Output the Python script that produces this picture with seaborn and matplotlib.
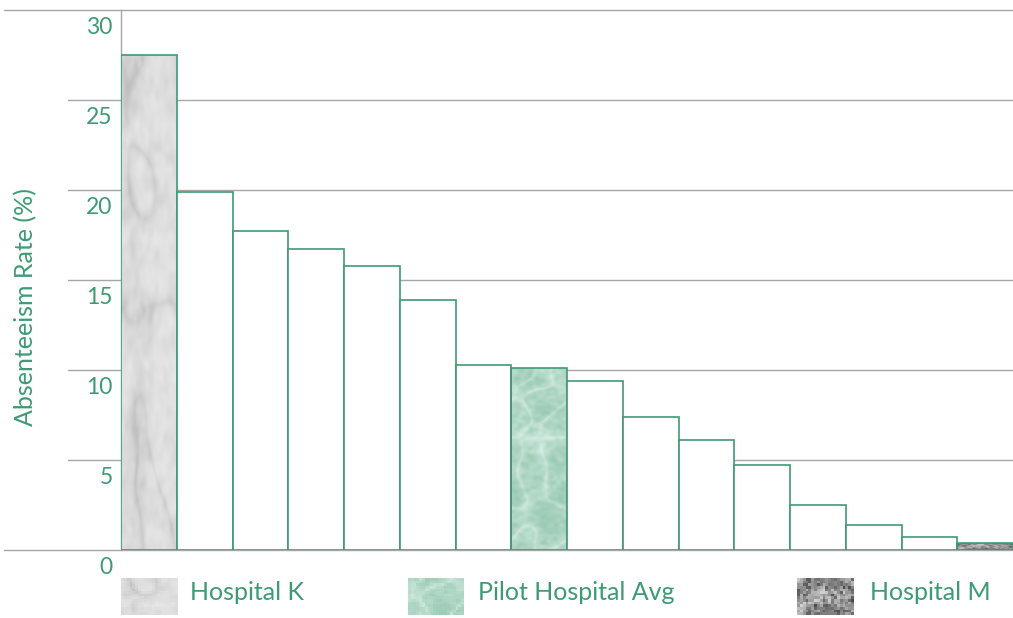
import numpy as np
import pandas as pd
import matplotlib
matplotlib.use("Agg")
import matplotlib.pyplot as plt
from matplotlib.colors import LinearSegmentedColormap
from matplotlib.transforms import ScaledTranslation
import seaborn as sns

# Absenteeism rate (%) per hospital, sorted high to low
hospitals = ["Hospital K", "Hospital B", "Hospital F", "Hospital D", "Hospital J",
             "Hospital A", "Hospital H", "Pilot Hospital Avg", "Hospital C",
             "Hospital E", "Hospital G", "Hospital L", "Hospital N", "Hospital I",
             "Hospital O", "Hospital M"]
rates = [27.5, 19.9, 17.7, 16.7, 15.8, 13.9, 10.3, 10.1, 9.4, 7.4, 6.1, 4.7,
         2.5, 1.4, 0.7, 0.4]
y_ticks = [0, 5, 10, 15, 20, 25, 30]
legend_items = ["Hospital K", "Pilot Hospital Avg", "Hospital M"]

GREEN = "#3d9a77"
GRID = "#a6a6a6"
FONT = ["Lato", "DejaVu Sans"]

sns.set_theme(style="white")
plt.rcParams["font.family"] = FONT


def smooth_field(h, w, rng, sigma):
    noise = rng.standard_normal((h, w))
    fy = np.fft.fftfreq(h)[:, None]
    fx = np.fft.fftfreq(w)[None, :]
    filt = np.exp(-(fx ** 2 + fy ** 2) * (2 * np.pi * sigma) ** 2 / 2)
    f = np.real(np.fft.ifft2(np.fft.fft2(noise) * filt))
    return (f - f.mean()) / (f.std() + 1e-9)


def marble(h, w, seed, vein_sharp=1.6, mottled=False):
    rng = np.random.default_rng(seed)
    base = smooth_field(h, w, rng, 8) * 0.5 + smooth_field(h, w, rng, 2.0) * 0.5
    if mottled:
        fine = smooth_field(h, w, rng, 1.0)
        v = 0.5 + 0.22 * base + 0.18 * fine
        return np.clip(v, 0, 1)
    veins = np.exp(-np.abs(smooth_field(h, w, rng, 12)) * vein_sharp)
    v = 0.4 + 0.14 * base + 0.4 * veins ** 2
    return np.clip(v, 0, 1)


# grey marble: veins darker than the ground
grey_cmap = LinearSegmentedColormap.from_list("greymarble", ["#ececec", "#e2e2e2", "#d3d3d3", "#c0c0c0"])
# green marble: veins lighter than the ground
green_cmap = LinearSegmentedColormap.from_list("greenmarble", ["#92c6ae", "#a4d0bb", "#c0e0d2", "#d8ede3"])
dark_cmap = LinearSegmentedColormap.from_list("darkstone", ["#4a4a4a", "#7c7c7c", "#a9a9a9", "#d0d0d0"])

tex_grey = marble(240, 60, 3)
tex_green = marble(240, 60, 11)
tex_dark = marble(40, 60, 7, mottled=True)

W, H = 1013, 618
fig = plt.figure(figsize=(W / 100, H / 100), dpi=100)
ax = fig.add_axes([121 / W, 68 / H, 892 / W, 540 / H])

df = pd.DataFrame({"hospital": hospitals, "rate": rates})
sns.barplot(data=df, x="hospital", y="rate", color="white", saturation=1,
            edgecolor=GREEN, linewidth=1.2, width=1.0, ax=ax, zorder=3)

ax.set_xlim(-0.5, len(hospitals) - 0.5)
ax.set_ylim(0, 30)

# textured fills for highlighted bars
textures = {0: (tex_grey, grey_cmap), 7: (tex_green, green_cmap),
            len(hospitals) - 1: (tex_dark, dark_cmap)}
for idx, (tex, cmap) in textures.items():
    patch = ax.patches[idx]
    patch.set_facecolor("none")
    x0, y0 = patch.get_x(), patch.get_y()
    x1, y1 = x0 + patch.get_width(), y0 + patch.get_height()
    im = ax.imshow(tex, cmap=cmap, vmin=0, vmax=1, extent=(x0, x1, y0, y1),
                   aspect="auto", interpolation="bilinear", zorder=2.5)
    im.set_clip_path(patch)
ax.set_xlim(-0.5, len(hospitals) - 0.5)
ax.set_ylim(0, 30)

# horizontal gridlines reaching into the label margin
for t in y_ticks:
    xmin = (4 - 121) / 892 if t in (0, 30) else (68 - 121) / 892
    ax.axhline(t, xmin=xmin, xmax=1, color=GRID, lw=1.0, clip_on=False, zorder=1)

for s in ["top", "right", "bottom"]:
    ax.spines[s].set_visible(False)
ax.spines["left"].set_color(GRID)
ax.spines["left"].set_linewidth(1.0)
ax.spines["left"].set_zorder(1.5)

ax.set_xticks([])
ax.set_xlabel("")
ax.set_yticks(y_ticks)
ax.set_yticklabels([str(t) for t in y_ticks])
ax.tick_params(axis="y", length=0, pad=6, labelsize=16.5, labelcolor=GREEN)
offset = ScaledTranslation(0, -0.16, fig.dpi_scale_trans)
for lab in ax.get_yticklabels():
    lab.set_transform(lab.get_transform() + offset)

ax.set_ylabel("Absenteeism Rate (%)", fontsize=18, color=GREEN, va="center")
ax.yaxis.set_label_coords((26 - 121) / 892, (550 - 307) / 540)

# legend swatches with text
swatches = [(121, tex_grey[60:100, :], grey_cmap), (408, tex_green[20:60, :], green_cmap),
            (797, tex_dark, dark_cmap)]
text_x = [190, 478, 870]
for (sx, tex, cmap), label, tx in zip(swatches, legend_items, text_x):
    sax = fig.add_axes([sx / W, (H - 615) / H, 56 / W, 37 / H])
    sax.imshow(tex[::3, ::3], cmap=cmap, vmin=0, vmax=1, aspect="auto",
               interpolation="nearest")
    sax.axis("off")
    fig.text(tx / W, (H - 592) / H, label, color=GREEN, fontsize=18,
             ha="left", va="center")

fig.savefig("out.png", dpi=100)
